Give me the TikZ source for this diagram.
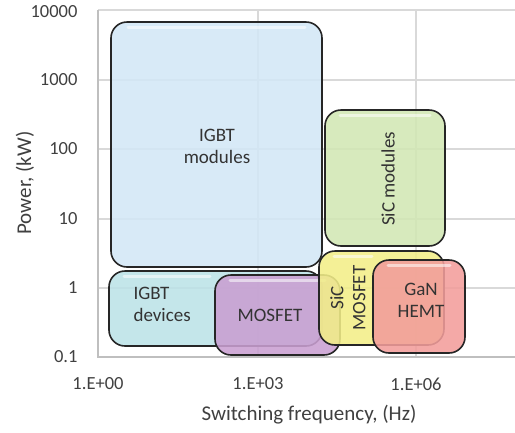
\documentclass[tikz,border=0pt]{standalone}
\usepackage{fontspec}
\setmainfont{Carlito}
\definecolor{gridgray}{HTML}{D9D9D9}
\definecolor{axisgray}{HTML}{BFBFBF}
\definecolor{inkgray}{HTML}{404040}
\definecolor{igbtmodfill}{HTML}{D3E7F6}
\definecolor{igbtdevfill}{HTML}{BCE2E7}
\definecolor{mosfetfill}{HTML}{C99FD1}
\definecolor{sicmodfill}{HTML}{D2E7B4}
\definecolor{sicmosfill}{HTML}{F2EE88}
\definecolor{ganfill}{HTML}{F29D9B}

\begin{document}
\begin{tikzpicture}[x=1pt,y=-1pt,
  box/.style={draw=black!85, line width=1.6pt, rounded corners=16pt, fill opacity=0.88},
  gloss/.style={white, line width=3pt, line cap=round, opacity=0.55},
  boxtext/.style={font=\fontsize{19}{22}\selectfont, text=black!80, align=center},
  ticktext/.style={font=\fontsize{18.5}{21}\selectfont, text=inkgray},
  titletext/.style={font=\fontsize{21}{24}\selectfont, text=inkgray}]
\useasboundingbox (0,0) rectangle (515,432);

% Grid
\foreach \y in {10,80,149,219,288}
  \draw[gridgray, line width=1.3pt] (98,\y) -- (515,\y);
\foreach \x in {258,416}
  \draw[gridgray, line width=1.3pt] (\x,10) -- (\x,357);
\draw[axisgray, line width=1.3pt] (98,10) -- (98,357) -- (515,357);

% Tick labels
\node[ticktext, anchor=east] (p4) at (81,12) {10000};
\node[ticktext, anchor=east] (p3) at (81,80) {1000};
\node[ticktext, anchor=east] (p2) at (81,149) {100};
\node[ticktext, anchor=east] (p1) at (81,219) {10};
\node[ticktext, anchor=east] (p0) at (81,288) {1};
\node[ticktext, anchor=east] (pm) at (81,357) {0.1};
\node[ticktext] (f0) at (98,384) {1.E+00};
\node[ticktext] (f3) at (258,384) {1.E+03};
\node[ticktext] (f6) at (416,384) {1.E+06};

% Axis titles
\node[titletext] (xtitle) at (309,415) {Switching frequency, (Hz)};
\node[titletext, rotate=90] (ytitle) at (25,183) {Power, (kW)};

% Regions
\draw[box, fill=igbtmodfill] (111,22) rectangle (322,267);
\draw[gloss] (128,27) -- (305,27);
\draw[box, fill=igbtdevfill] (109,271) rectangle (322,346);
\draw[gloss] (124,276) -- (210,276);
\draw[box, fill=mosfetfill] (215,275) rectangle (340,355);
\draw[gloss] (230,280) -- (325,280);
\draw[box, fill=sicmodfill] (325,110) rectangle (445,246);
\draw[gloss] (340,115) -- (430,115);
\draw[box, fill=sicmosfill] (319,251) rectangle (444,345);
\draw[gloss] (334,256) -- (372,256);
\draw[box, fill=ganfill] (373,260) rectangle (465,353);
\draw[gloss] (388,265) -- (450,265);

% Region names
\node[boxtext] (igbtmod) at (217,146) {IGBT\\modules};
\node[boxtext, align=left, anchor=west] (igbtdev) at (130,304) {IGBT\\devices};
\node[boxtext] (mosfet) at (270,315) {MOSFET};
\node[boxtext, rotate=90] (sicmod) at (388,179) {SiC modules};
\node[boxtext, rotate=90] (sicmos) at (348,298) {SiC\\MOSFET};
\node[boxtext] (gan) at (421,300) {GaN\\HEMT};
\end{tikzpicture}
\end{document}
